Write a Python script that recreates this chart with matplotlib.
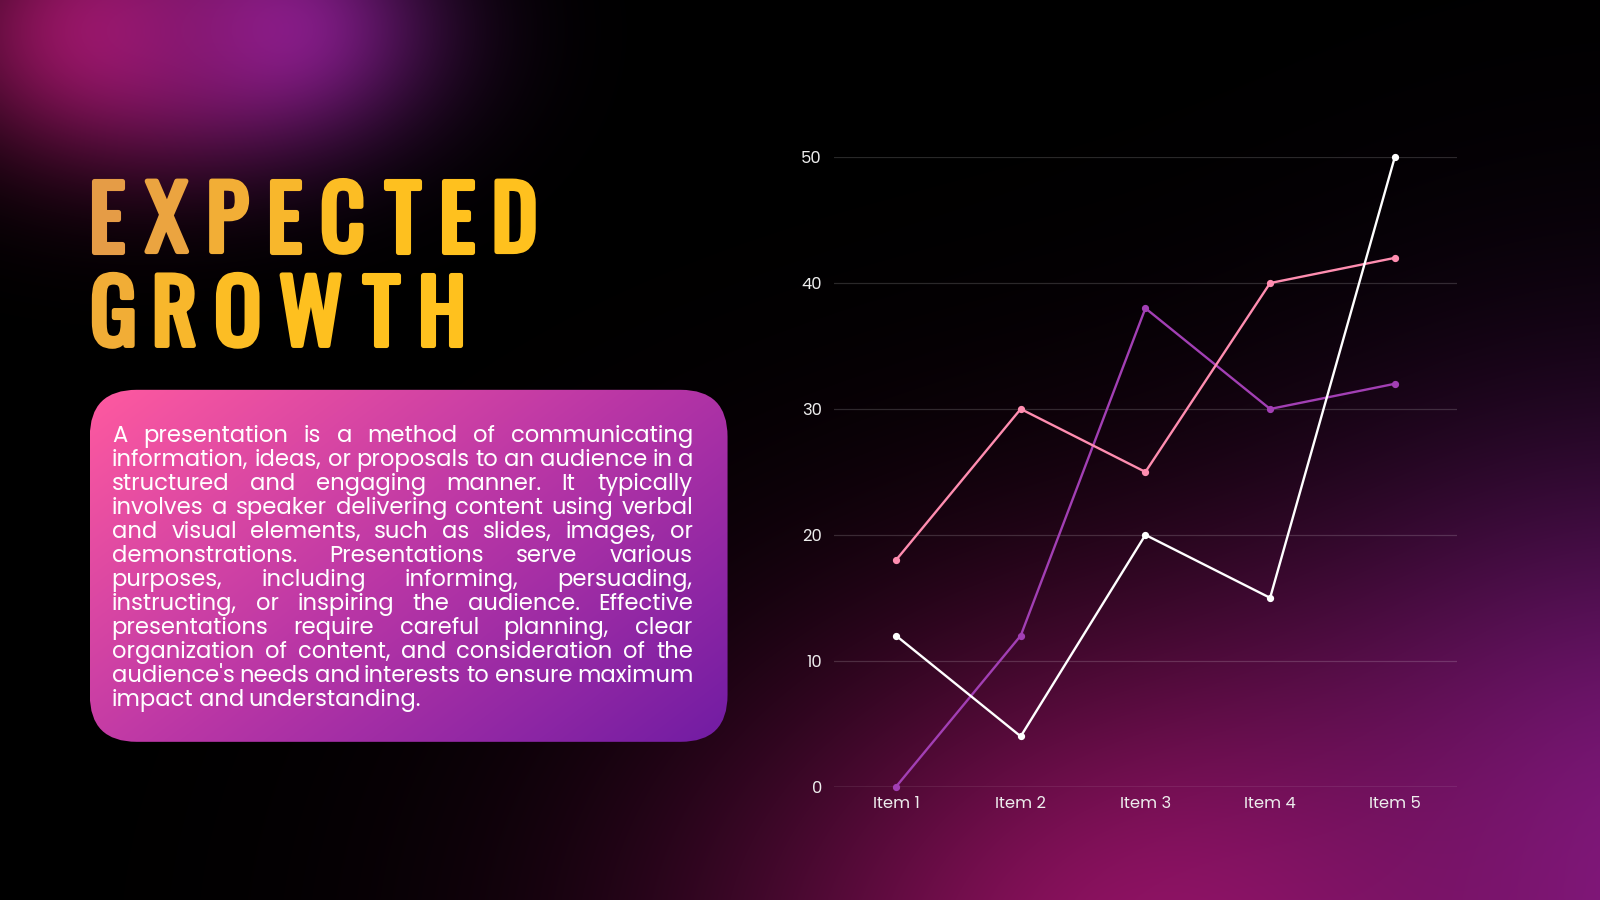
import numpy as np
import matplotlib
matplotlib.use("Agg")
import matplotlib.pyplot as plt
from matplotlib import font_manager as fm
from matplotlib.font_manager import FontProperties
from matplotlib.textpath import TextPath
from matplotlib.patches import FancyBboxPatch
from matplotlib.colors import to_rgb
import matplotlib.patheffects as pe

# ---------------- data ----------------
items = ["Item 1", "Item 2", "Item 3", "Item 4", "Item 5"]
series_white = [12, 4, 20, 15, 50]
series_pink = [18, 30, 25, 40, 42]
series_purple = [0, 12, 38, 30, 32]
y_ticks = [0, 10, 20, 30, 40, 50]

title_lines = ["EXPECTED", "GROWTH"]
body_lines = [
    "A presentation is a method of communicating",
    "information, ideas, or proposals to an audience in a",
    "structured and engaging manner. It typically",
    "involves a speaker delivering content using verbal",
    "and visual elements, such as slides, images, or",
    "demonstrations. Presentations serve various",
    "purposes, including informing, persuading,",
    "instructing, or inspiring the audience. Effective",
    "presentations require careful planning, clear",
    "organization of content, and consideration of the",
    "audience's needs and interests to ensure maximum",
    "impact and understanding.",
]

# ---------------- fonts ----------------
available = {f.name for f in fm.fontManager.ttflist}


def pick(cands):
    for c in cands:
        if c in available:
            return c
    return "DejaVu Sans"


title_font = pick(["Oswald", "Bebas Neue", "Anton", "Roboto Condensed",
                   "Liberation Sans Narrow", "DejaVu Sans"])
body_font = pick(["Poppins", "Inter", "Lato", "Open Sans", "Noto Sans", "DejaVu Sans"])

W_REF, H_REF = 1568.0, 882.0
S = 1600.0 / W_REF  # reference units -> output pixels
PT = 72.0 / 100.0   # pixel -> point at dpi 100

fig = plt.figure(figsize=(16, 9), dpi=100)
fig.patch.set_facecolor("black")

# ---------------- background ----------------
bg = fig.add_axes([0, 0, 1, 1], zorder=0)
bg.set_xlim(0, W_REF)
bg.set_ylim(H_REF, 0)
bg.axis("off")

gx = np.linspace(0, W_REF, 800)
gy = np.linspace(0, H_REF, 450)
GX, GY = np.meshgrid(gx, gy)


def blob(cx, cy, sx, sy):
    return np.exp(-0.5 * (((GX - cx) / sx) ** 2 + ((GY - cy) / sy) ** 2))


glows = [
    (blob(105, 30, 120, 90), (0.62, 0.08, 0.37)),
    (blob(265, 28, 110, 80), (0.50, 0.12, 0.58)),
    (blob(1160, 945, 330, 245), (0.58, 0.07, 0.38)),
    (blob(1630, 880, 250, 290), (0.47, 0.10, 0.52)),
]
wsum = np.zeros_like(GX)
csum = np.zeros(GX.shape + (3,))
inv = np.ones_like(GX)
for g, c in glows:
    wsum += g
    csum += g[..., None] * np.array(c)
    inv *= (1 - g)
intensity = 1 - inv
img = intensity[..., None] * csum / np.maximum(wsum[..., None], 1e-9)
bg.imshow(np.clip(img, 0, 1), extent=(0, W_REF, H_REF, 0), aspect="auto",
          interpolation="bilinear", zorder=0)

# ---------------- rounded gradient box ----------------
bx, by, bw, bh = 88, 382, 625, 345
box = FancyBboxPatch((bx, by), bw, bh, boxstyle="round,pad=0,rounding_size=46",
                     linewidth=0, facecolor="none", transform=bg.transData)
bg.add_patch(box)
ux = np.linspace(0, 1, 300)
uy = np.linspace(0, 1, 170)
UX, UY = np.meshgrid(ux, uy)
t = np.clip(0.58 * UX + 0.42 * UY, 0, 1)
c0 = np.array(to_rgb("#FF5AA0"))
c1 = np.array(to_rgb("#B936A6"))
c2 = np.array(to_rgb("#711CA3"))
grad = np.where(t[..., None] < 0.5,
                c0 + (c1 - c0) * (t[..., None] / 0.5),
                c1 + (c2 - c1) * ((t[..., None] - 0.5) / 0.5))
im = bg.imshow(grad, extent=(bx, bx + bw, by + bh, by), aspect="auto",
               interpolation="bilinear", zorder=1)
im.set_clip_path(box)

# ---------------- title ----------------
tfp = FontProperties(family=title_font, weight="bold")
if title_font == "DejaVu Sans":
    tfp.set_stretch("condensed")
stroke = 5.0  # extra boldness (reference units)
cap_unit = TextPath((0, 0), "E", size=1.0, prop=tfp).get_extents().y1
letters_all = title_lines[0]
w_unit = sum(TextPath((0, 0), ch, size=1.0, prop=tfp).get_extents().width for ch in letters_all)
span = 525 - 90
n = len(letters_all)
em = min((74.0 - stroke) / cap_unit, (span - n * stroke - (n - 1) * 14.0) / w_unit)
title_pt = em * S * PT
gap = (span - em * w_unit - n * stroke) / (n - 1)

title_cols = [["#E59C46", "#EBA440", "#F2AE36", "#F8B72C", "#FCBD24", "#FEC01F", "#FFC11E", "#FFC11E"],
              ["#F1AD36", "#F8B72C", "#FCBD24", "#FEC01F", "#FFC11E", "#FFC11E"]]
baselines = [249 - stroke / 2, 341 - stroke / 2]
for li, word in enumerate(title_lines):
    cur = 90.0
    for ci, ch in enumerate(word):
        ext = TextPath((0, 0), ch, size=em, prop=tfp).get_extents()
        col = title_cols[li][ci]
        bg.text(cur + stroke / 2 - ext.x0, baselines[li], ch, fontproperties=tfp,
                fontsize=title_pt, color=col, ha="left", va="baseline", zorder=3,
                path_effects=[pe.withStroke(linewidth=stroke * S * PT, foreground=col)])
        cur += ext.width + stroke + gap

# ---------------- body text (justified) ----------------
bfp = FontProperties(family=body_font)
bcap = TextPath((0, 0), "H", size=1.0, prop=bfp).get_extents().y1
left, right = 111.0, 678.0
avail = right - left
bem = 16.0 / bcap
space_u = 0.33


def word_w(w, size):
    return TextPath((0, 0), w, size=size, prop=bfp).get_extents()


max_nat = 0
for line in body_lines:
    words = line.split(" ")
    nat = sum(word_w(w, 1.0).width for w in words) + (len(words) - 1) * space_u
    max_nat = max(max_nat, nat)
bem = min(bem, avail / max_nat)
body_pt = bem * S * PT

for i, line in enumerate(body_lines):
    yb = 432.7 + i * 23.57
    words = line.split(" ")
    exts = [word_w(w, bem) for w in words]
    total = sum(e.width for e in exts)
    if i < len(body_lines) - 1 and len(words) > 1:
        g = (avail - total) / (len(words) - 1)
    else:
        g = space_u * bem
    cur = left
    for w, e in zip(words, exts):
        bg.text(cur - e.x0, yb, w, fontproperties=bfp, fontsize=body_pt, color="white",
                ha="left", va="baseline", zorder=3)
        cur += e.width + g

# ---------------- chart ----------------
ax = fig.add_axes([817 / W_REF, 1 - 771 / H_REF, (1428 - 817) / W_REF, (771 - 154) / H_REF],
                  zorder=2)
ax.patch.set_alpha(0)
x = np.arange(len(items))
ax.set_xlim(-0.5, len(items) - 0.5)
ax.set_ylim(0, 50)
ax.set_yticks(y_ticks)
ax.set_xticks(x)
ax.set_xticklabels(items)
for s in ax.spines.values():
    s.set_visible(False)
ax.grid(axis="y", color="#FFFFFF", alpha=0.16, linewidth=0.9)
ax.grid(axis="x", visible=False)
ax.set_axisbelow(True)
ax.axhline(0, color="#FFFFFF", alpha=0.32, linewidth=1.0, zorder=1)

tick_pt = 11.8
ax.tick_params(axis="both", length=0, labelsize=tick_pt, colors="#EDEDED")
ax.tick_params(axis="y", pad=8.5)
ax.tick_params(axis="x", pad=7)
for lab in ax.get_xticklabels() + ax.get_yticklabels():
    lab.set_fontproperties(bfp)
    lab.set_fontsize(tick_pt)

line_kw = dict(linewidth=1.7, marker="o", markersize=4.2, clip_on=False)
ax.plot(x, series_purple, color="#A23FB4", zorder=3, **line_kw)
ax.plot(x, series_pink, color="#FF8DB0", zorder=4, **line_kw)
ax.plot(x, series_white, color="#FFFFFF", zorder=5, **line_kw)

fig.savefig("out.png", dpi=100, facecolor="black")
